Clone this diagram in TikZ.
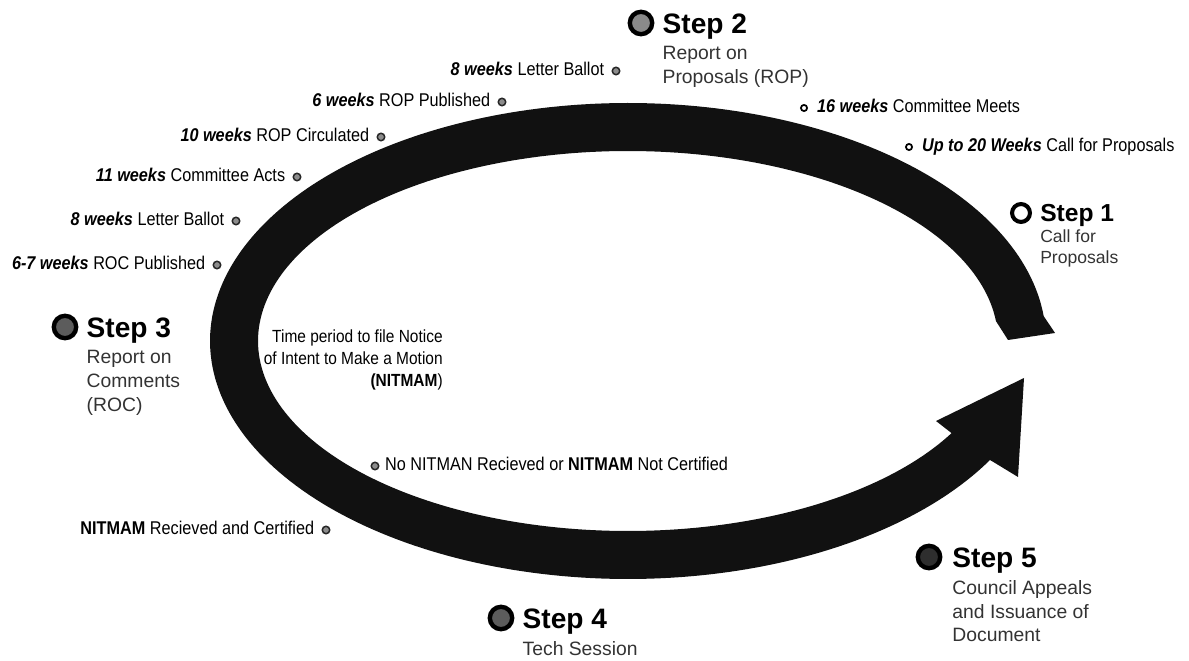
\documentclass[tikz,border=0pt]{standalone}
\usepackage{fontspec}
\setmainfont{Liberation Sans}
\newfontfamily\narrowfont[FakeStretch=0.88]{Liberation Sans}
\usetikzlibrary{positioning}

\definecolor{bandblack}{HTML}{111111}
\definecolor{dotgray}{HTML}{8C8C8C}
\definecolor{steplight}{HTML}{8A8A8A}
\definecolor{stepmid}{HTML}{5C5C5C}
\definecolor{stepdark}{HTML}{2E2E2E}
\definecolor{subtext}{HTML}{333333}

\newcommand\wkb[1]{\textbf{\textit{#1}}}

\tikzset{
  stepdot/.style={circle, draw=black, line width=2.5pt, inner sep=0pt, minimum size=12.75pt},
  stepring/.style={circle, draw=black, fill=white, line width=2.3pt, inner sep=0pt, minimum size=10.2pt},
  msdot/.style={circle, draw=black!85, fill=dotgray, line width=0.85pt, inner sep=0pt, minimum size=4.25pt},
  opendot/.style={circle, draw=black, fill=white, line width=1pt, inner sep=0pt, minimum size=3.5pt},
  ms/.style={font=\narrowfont\fontsize{10.5}{12}\selectfont, inner sep=0pt, text height=7.5pt, text depth=2.5pt},
  midtext/.style={font=\narrowfont\fontsize{10}{12.5}\selectfont, inner sep=0pt, align=right},
  steptitle/.style={font=\bfseries\fontsize{16}{19}\selectfont, inner sep=0pt, text height=11.5pt, text depth=0pt},
  stepsub/.style={font=\fontsize{11}{13.6}\selectfont, text=subtext, inner sep=0pt, align=left}
}

\begin{document}
\begin{tikzpicture}[x=0.02cm, y=-0.02cm]
    \useasboundingbox (0,0) rectangle (1189,661);

    % the band round the cycle, ending in its arrow head
    \fill[bandblack] (1008,340) -- (1055,333)
        -- plot[domain=6:330, samples=240, variable=\t] ({628+418*cos(\t)}, {341-238*sin(\t)})
        -- (995,463) -- (1018,477) -- (1024,378) -- (936,421) -- (954,435)
        -- plot[domain=0:325, samples=240, variable=\t] ({628+370*cos(331-\t)}, {341-190*sin(331-\t)})
        -- cycle;

    % steps
    \node[stepring] (s1) at (1021,213) {};
    \node[steptitle, font=\bfseries\fontsize{14}{17}\selectfont, text height=10pt, right=4.5pt of s1] (t1) {Step 1};
    \node[stepsub, font=\fontsize{10}{12}\selectfont, below=4pt of t1.south west, anchor=north west] (u1) {Call for\\Proposals};

    \node[stepdot, fill=steplight] (s2) at (641,23) {};
    \node[steptitle, right=4.5pt of s2] (t2) {Step 2};
    \node[stepsub, below=7pt of t2.south west, anchor=north west] (u2) {Report on\\Proposals (ROP)};

    \node[stepdot, fill=stepmid] (s3) at (65,327) {};
    \node[steptitle, right=4.5pt of s3] (t3) {Step 3};
    \node[stepsub, below=7pt of t3.south west, anchor=north west] (u3) {Report on\\Comments\\(ROC)};

    \node[stepdot, fill=stepmid] (s4) at (501,618) {};
    \node[steptitle, right=4.5pt of s4] (t4) {Step 4};
    \node[stepsub, below=7pt of t4.south west, anchor=north west] (u4) {Tech Session};

    \node[stepdot, fill=stepdark] (s5) at (929,557) {};
    \node[steptitle, right=5.5pt of s5] (t5) {Step 5};
    \node[stepsub, below=7pt of t5.south west, anchor=north west] (u5) {Council Appeals\\and Issuance of\\Document};

    % milestones
    \node[opendot] (cp) at (909,147) {};
    \node[ms, right=5pt of cp] {\wkb{Up to 20 Weeks} Call for Proposals};
    \node[opendot] (cm) at (804,108) {};
    \node[ms, right=5pt of cm] {\wkb{16 weeks} Committee Meets};

    \node[msdot] (lb2) at (616,71) {};
    \node[ms, left=4pt of lb2] {\wkb{8 weeks} Letter Ballot};
    \node[msdot] (rp) at (502,102) {};
    \node[ms, left=4pt of rp] {\wkb{6 weeks} ROP Published};
    \node[msdot] (rc) at (381,137) {};
    \node[ms, left=4pt of rc] {\wkb{10 weeks} ROP Circulated};
    \node[msdot] (ca) at (297,177) {};
    \node[ms, left=4pt of ca] {\wkb{11 weeks} Committee Acts};
    \node[msdot] (lb3) at (236,221) {};
    \node[ms, left=4pt of lb3] {\wkb{8 weeks} Letter Ballot};
    \node[msdot] (roc) at (217,265) {};
    \node[ms, left=4pt of roc] {\wkb{6-7 weeks} ROC Published};

    \node[midtext, anchor=north east] (np) at (443,329) {Time period to file Notice\\of Intent to Make a Motion\\\textbf{(NITMAM})};

    \node[msdot] (nn) at (375,466) {};
    \node[ms, right=3pt of nn] {No NITMAN Recieved or \textbf{NITMAM} Not Certified};
    \node[msdot] (nc) at (326,530) {};
    \node[ms, left=4pt of nc] {\textbf{NITMAM} Recieved and Certified};

\end{tikzpicture}
\end{document}
